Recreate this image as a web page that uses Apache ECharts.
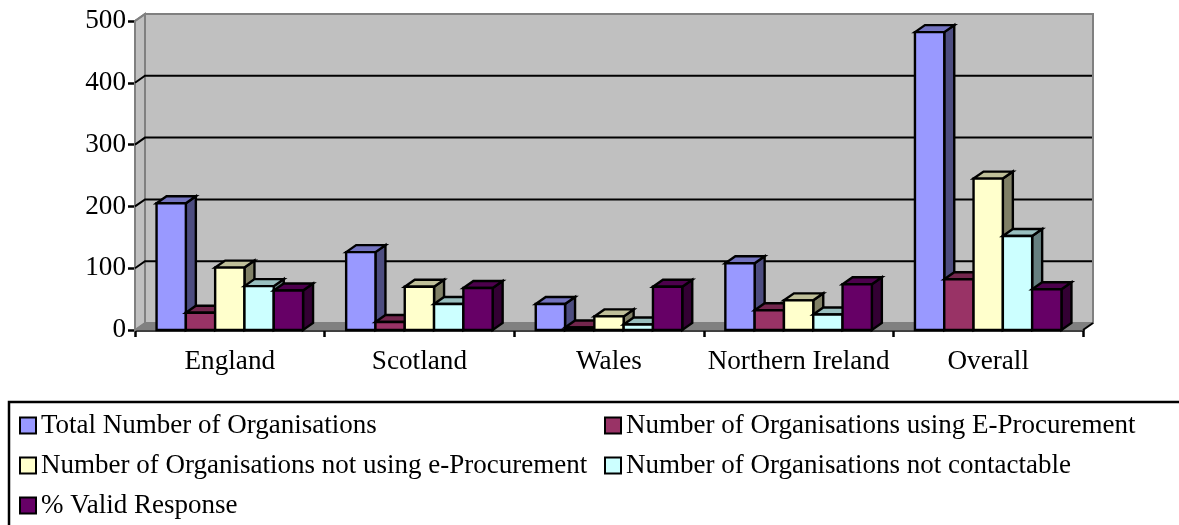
<!DOCTYPE html>
<html><head><meta charset="utf-8">
<style>html,body{margin:0;padding:0;background:#fff}#c{width:1179px;height:525px}</style>
<script src="https://cdn.jsdelivr.net/npm/echarts@6/dist/echarts.min.js"></script>
</head><body><div id="c"></div>
<script>
const categories = ['England','Scotland','Wales','Northern Ireland','Overall'];
const yTicks = [0,100,200,300,400,500];
const totalOrgs = [205,126,42,108,482];
const usingEP = [28,13,4,32,82];
const notUsingEP = [101,70,22,48,245];
const notContactable = [71,42,9,25,152];
const validResponse = [64,68,70,74,66];
const seriesNames = ['Total Number of Organisations','Number of Organisations using E-Procurement','Number of Organisations not using e-Procurement','Number of Organisations not contactable','% Valid Response'];
const seriesValues = [totalOrgs,usingEP,notUsingEP,notContactable,validResponse];
const faceColors = ['#9999ff','#993366','#ffffcc','#ccffff','#660066'];
const topColors = ['#7373bf','#73264d','#bfbf99','#99bfbf','#4d004d'];
const sideColors = ['#4d4d80','#4d1933','#808066','#668080','#330033'];
const DX=10, DY=-7, FONT='"Liberation Serif","Times New Roman",serif', FS=27.2, LEGEND_FS=27;
const barFrac=29.3/189.6;

function poly(pts,fill,stroke,lw){return {type:'polygon',shape:{points:pts},style:{fill:fill,stroke:stroke,lineWidth:lw,lineJoin:'miter'}};}

function wallRender(params,api){
  const c=params.coordSys, x0=c.x, y0=c.y+c.height, x1=c.x+c.width, yt=c.y;
  const ch=[
    poly([[x0,yt],[x0+DX,yt+DY],[x0+DX,y0+DY],[x0,y0]],'#c0c0c0','#808080',2),
    poly([[x0+DX,yt+DY],[x1+DX,yt+DY],[x1+DX,y0+DY],[x0+DX,y0+DY]],'#c0c0c0','#808080',2),
    poly([[x0,y0],[x0+DX,y0+DY],[x1+DX,y0+DY],[x1,y0]],'#808080','#808080',1)
  ];
  yTicks.forEach(t=>{
    if(t===0||t===500)return;
    const y=api.coord([0,t])[1];
    ch.push({type:'polyline',shape:{points:[[x0,y],[x0+DX,y+DY],[x1+DX-1,y+DY]]},style:{fill:null,stroke:'#000',lineWidth:2}});
  });
  ch.push({type:'line',shape:{x1:x1,y1:y0,x2:x1+DX,y2:y0+DY},style:{stroke:'#000',lineWidth:2}});
  ch.push({type:'line',shape:{x1:x0,y1:yt,x2:x0+DX,y2:yt+DY},style:{stroke:'#808080',lineWidth:2}});
  return {type:'group',children:ch};
}
function barRender(si){return function(params,api){
  const catW=api.size([1,0])[0], w=catW*barFrac;
  const p=api.coord([api.value(0),api.value(1)]);
  const base=api.coord([api.value(0),0])[1];
  const l=p[0]+(si-2.5)*w, r=l+w, t=p[1];
  return {type:'group',children:[
    poly([[r,t],[r+DX,t+DY],[r+DX,base+DY],[r,base]],sideColors[si],'#000',2.4),
    poly([[l,t],[l+DX,t+DY],[r+DX,t+DY],[r,t]],topColors[si],'#000',2.4),
    poly([[l,t],[r,t],[r,base],[l,base]],faceColors[si],'#000',2.4)
  ]};
};}

const series=[{type:'custom',silent:true,z:1,renderItem:wallRender,data:[[0,0]],encode:{x:0,y:1},clip:false,tooltip:{show:false}}];
seriesNames.forEach((n,i)=>series.push({
  name:n,type:'custom',z:2,clip:false,renderItem:barRender(i),
  encode:{x:0,y:1},data:seriesValues[i].map((v,k)=>[k,v]),
  itemStyle:{color:faceColors[i],borderColor:'#000',borderWidth:2.4}
}));
const legendCommon={orient:'vertical',icon:'rect',itemWidth:16,itemHeight:16,itemGap:13,selectedMode:false,
  textStyle:{fontFamily:FONT,fontSize:LEGEND_FS,color:'#000',padding:0},padding:0};
const chart=echarts.init(document.getElementById('c'),null,{renderer:'canvas'});
chart.setOption({
  animation:false,backgroundColor:'#fff',
  grid:{left:135,top:21,width:948,height:309,containLabel:false},
  xAxis:{type:'category',data:categories,boundaryGap:true,
    axisLine:{show:true,lineStyle:{color:'#000',width:2.5}},
    axisTick:{show:true,alignWithLabel:false,length:7,lineStyle:{color:'#000',width:2.5}},
    axisLabel:{interval:0,fontFamily:FONT,fontSize:FS,color:'#000',margin:18},splitLine:{show:false}},
  yAxis:{type:'value',min:0,max:500,interval:100,
    axisLine:{show:true,lineStyle:{color:'#000',width:2.5}},
    axisTick:{show:true,length:7,lineStyle:{color:'#000',width:2.5}},
    axisLabel:{fontFamily:FONT,fontSize:FS,color:'#000',margin:9},splitLine:{show:false}},
  legend:[
    Object.assign({},legendCommon,{left:19,top:412,data:[seriesNames[0],seriesNames[2],seriesNames[4]]}),
    Object.assign({},legendCommon,{left:604,top:412,data:[seriesNames[1],seriesNames[3]]})
  ],
  graphic:[{type:'polyline',shape:{points:[[9,525],[9,402],[1179,402]]},style:{fill:null,stroke:'#000',lineWidth:2.5},silent:true}],
  series:series
});
</script></body></html>
